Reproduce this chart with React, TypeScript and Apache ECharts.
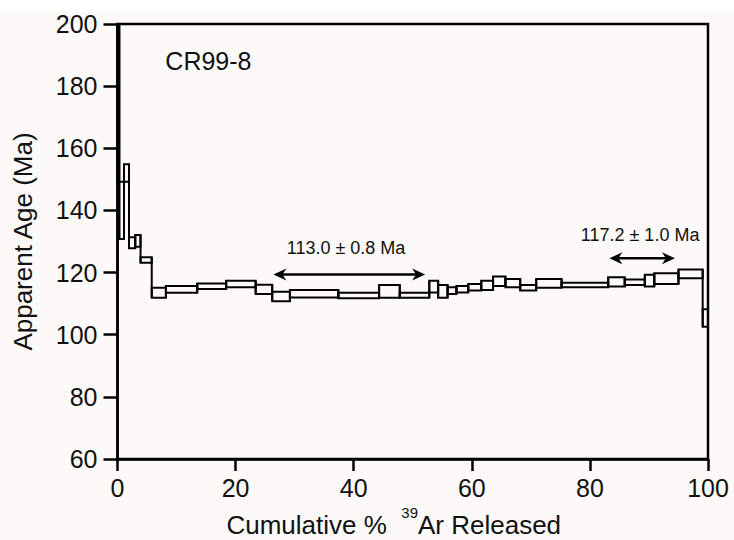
import React, { useEffect, useRef } from 'react';
import * as echarts from 'echarts';

// Cumulative % 39Ar released at each step boundary
const cumPercent = [0, 0.3, 1.1, 1.95, 3.0, 3.9, 5.8, 8.2, 13.5, 18.4, 23.4, 26.2, 29.2, 37.4, 44.3, 47.8, 52.8, 54.3, 55.9, 57.4, 59.4, 61.6, 63.6, 65.7, 68.2, 70.9, 75.2, 83.1, 85.9, 89.3, 90.9, 95.0, 99.1, 100];
// Apparent age lower / upper bounds (Ma) of each step box
const ageLow = [149.2, 130.8, 149.2, 127.8, 128.3, 123.2, 111.9, 113.5, 114.7, 115.3, 113.1, 110.8, 112.0, 111.7, 111.9, 111.9, 113.6, 111.9, 113.1, 113.6, 114.2, 114.4, 115.7, 115.3, 114.2, 115.1, 115.3, 115.5, 116.0, 115.5, 116.3, 118.2, 102.6];
const ageHigh = [215, 149.2, 154.9, 131.4, 132.1, 124.9, 115.1, 115.7, 116.5, 117.4, 116.1, 113.8, 114.4, 113.5, 116.0, 113.5, 117.4, 116.0, 115.3, 115.7, 116.3, 117.4, 118.7, 117.9, 116.0, 117.9, 116.7, 118.5, 117.8, 119.3, 119.8, 121.0, 108.2];

// Plateau arrows
const plateauFrom = [26.4, 83.3];
const plateauTo = [52.1, 94.4];
const plateauArrowAge = [119.4, 124.6];
const plateauLabels = ['113.0 ± 0.8 Ma', '117.2 ± 1.0 Ma'];
const plateauLabelX = [38.7, 88.5];
const plateauLabelAge = [127.9, 132.1];

const sampleName = 'CR99-8';
const sampleX = 15.4;
const sampleAge = 188.1;

const xTicks = [0, 20, 40, 60, 80, 100];
const yTicks = [60, 80, 100, 120, 140, 160, 180, 200];

const FONT = "'Liberation Sans', Arial, Helvetica, sans-serif";
const INK = '#000';
const TXT = '#111';

export default function App() {
  const ref = useRef<HTMLDivElement>(null);
  useEffect(() => {
    const chart = echarts.init(ref.current!, null, { renderer: 'svg' });

    const boxRows = ageLow.map((lo, i) => [
      cumPercent[i],
      cumPercent[i + 1],
      lo,
      ageHigh[i],
      i > 0 ? ageLow[i - 1] : lo,
      i > 0 ? ageHigh[i - 1] : ageHigh[i],
      i,
    ]);

    const arrowRows = plateauFrom.map((f, i) => [f, plateauTo[i], plateauArrowAge[i]]);
    const labelRows = plateauLabels.map((t, i) => [plateauLabelX[i], plateauLabelAge[i], t]);

    const option: any = {
      animation: false,
      backgroundColor: '#fdf9f9',
      graphic: [
        { type: 'rect', silent: true, z: -1, shape: { x: 0, y: 0, width: 734, height: 12 }, style: { fill: '#ffffff' } },
      ],
      grid: {
        left: 117.5,
        right: 26,
        top: 24,
        bottom: 81,
        show: true,
        borderColor: INK,
        borderWidth: 2.5,
        backgroundColor: 'transparent',
        containLabel: false,
        outerBoundsMode: 'none',
      },
      xAxis: {
        type: 'value',
        min: xTicks[0],
        max: xTicks[xTicks.length - 1],
        interval: 20,
        axisLine: { show: true, onZero: false, lineStyle: { color: INK, width: 2.5 } },
        axisTick: { show: true, length: 12, lineStyle: { color: INK, width: 2.5 } },
        axisLabel: { color: TXT, fontSize: 25, fontFamily: FONT, margin: 16 },
        splitLine: { show: false },
        name: '{t|Cumulative %  }{s|39}{t|Ar Released}',
        nameLocation: 'middle',
        nameGap: 35,
        nameTextStyle: {
          padding: [0, 38, 0, 0],
          rich: {
            t: { fontSize: 26, fontFamily: FONT, color: TXT },
            s: { fontSize: 15, fontFamily: FONT, color: TXT, padding: [0, 0, 26, 0] },
          },
        },
      },
      yAxis: {
        type: 'value',
        min: yTicks[0],
        max: yTicks[yTicks.length - 1],
        interval: 20,
        axisLine: { show: true, onZero: false, lineStyle: { color: INK, width: 2.5 } },
        axisTick: { show: true, length: 14, lineStyle: { color: INK, width: 2.5 } },
        axisLabel: { color: TXT, fontSize: 25, fontFamily: FONT, margin: 20 },
        splitLine: { show: false },
        name: 'Apparent Age (Ma)',
        nameLocation: 'middle',
        nameGap: 82,
        nameRotate: 90,
        nameTextStyle: { fontSize: 26, fontFamily: FONT, color: TXT },
      },
      series: [
        {
          type: 'custom',
          name: 'steps',
          data: boxRows,
          renderItem: (params: any, api: any) => {
            const cs = params.coordSys;
            const x0 = api.value(0), x1 = api.value(1);
            const lo = api.value(2), hi = api.value(3);
            const plo = api.value(4), phi = api.value(5);
            const idx = api.value(6);
            const pTop = api.coord([x0, hi]);
            const pBot = api.coord([x1, lo]);
            const rectShape = echarts.graphic.clipRectByRect(
              { x: pTop[0], y: pTop[1], width: pBot[0] - pTop[0], height: pBot[1] - pTop[1] },
              { x: cs.x, y: cs.y, width: cs.width, height: cs.height }
            );
            const children: any[] = [];
            if (idx > 0) {
              const yA = api.coord([x0, Math.max(hi, phi)])[1];
              const yB = api.coord([x0, Math.min(lo, plo)])[1];
              children.push({
                type: 'line',
                shape: { x1: pTop[0], y1: Math.max(yA, cs.y), x2: pTop[0], y2: yB },
                style: { stroke: INK, lineWidth: 2 },
              });
            }
            if (rectShape) {
              children.push({
                type: 'rect',
                shape: rectShape,
                style: { fill: 'none', stroke: INK, lineWidth: 2 },
              });
            }
            return { type: 'group', children };
          },
          z: 3,
        },
        {
          type: 'custom',
          name: 'plateaus',
          data: arrowRows,
          renderItem: (params: any, api: any) => {
            const a = api.coord([api.value(0), api.value(2)]);
            const b = api.coord([api.value(1), api.value(2)]);
            const y = a[1];
            const L = 13, W = 6, N = 9;
            return {
              type: 'group',
              children: [
                { type: 'line', shape: { x1: a[0] + 4, y1: y, x2: b[0] - 4, y2: y }, style: { stroke: INK, lineWidth: 2.5 } },
                { type: 'polygon', shape: { points: [[a[0], y], [a[0] + L, y - W], [a[0] + N, y], [a[0] + L, y + W]] }, style: { fill: INK } },
                { type: 'polygon', shape: { points: [[b[0], y], [b[0] - L, y - W], [b[0] - N, y], [b[0] - L, y + W]] }, style: { fill: INK } },
              ],
            };
          },
          z: 4,
        },
        {
          type: 'custom',
          name: 'labels',
          data: labelRows,
          renderItem: (params: any, api: any) => {
            const p = api.coord([api.value(0), api.value(1)]);
            return {
              type: 'text',
              x: p[0],
              y: p[1],
              style: {
                text: plateauLabels[params.dataIndex],
                fill: TXT,
                font: `18px ${FONT}`,
                textAlign: 'center',
                textVerticalAlign: 'middle',
              },
            };
          },
          z: 4,
        },
        {
          type: 'custom',
          name: 'sample',
          data: [[sampleX, sampleAge]],
          renderItem: (params: any, api: any) => {
            const p = api.coord([api.value(0), api.value(1)]);
            return {
              type: 'text',
              x: p[0],
              y: p[1],
              style: {
                text: sampleName,
                fill: TXT,
                font: `25px ${FONT}`,
                textAlign: 'center',
                textVerticalAlign: 'middle',
              },
            };
          },
          z: 4,
        },
      ],
    };

    chart.setOption(option);
    return () => chart.dispose();
  }, []);

  return <div ref={ref} style={{ position: 'fixed', left: 0, top: 0, width: 734, height: 540 }} />;
}
